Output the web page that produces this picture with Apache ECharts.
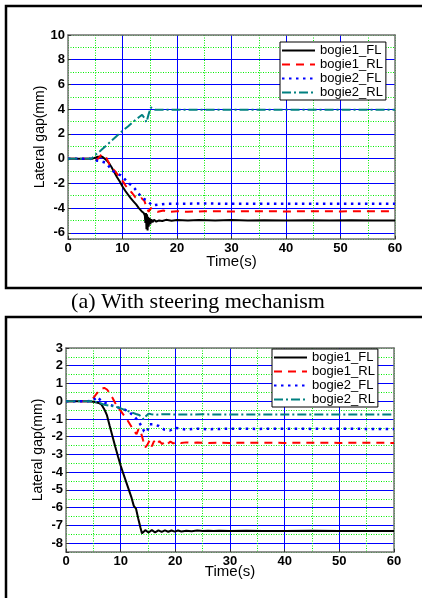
<!DOCTYPE html>
<html><head><meta charset="utf-8">
<script src="https://cdn.jsdelivr.net/npm/echarts@6/dist/echarts.min.js"></script>
<style>html,body{margin:0;padding:0;background:#fff}#c{width:422px;height:598px}</style>
</head><body><div id="c"></div>
<script>
const seriesNames = ['bogie1_FL','bogie1_RL','bogie2_FL','bogie2_RL'];
const xTickLabels = [0,10,20,30,40,50,60];
const topYTickLabels = [-6,-4,-2,0,2,4,6,8,10];
const botYTickLabels = [-8,-7,-6,-5,-4,-3,-2,-1,0,1,2,3];
const caption = '(a) With steering mechanism';

// ---- top chart (with steering mechanism) ----
const topB1FL_t = [0,4.5,5.5,6.3,7,7.5,8,8.5,9,9.5,10,10.5,11,11.5,12,12.5,13,13.5,13.9,14.1,14.2,14.3,14.4,14.5,14.6,14.7,14.8,14.95,15.1,15.3,15.5,15.8,16.2,16.7,17.3,18,19,20,22,24,27,30,33,36,40,44,48,52,56,60];
const topB1FL_v = [0,0,0.15,0.15,-0.1,-0.35,-0.7,-1.1,-1.5,-1.85,-2.25,-2.6,-2.9,-3.2,-3.45,-3.7,-4.0,-4.25,-4.4,-4.6,-5.2,-4.4,-5.7,-4.5,-5.8,-4.7,-5.5,-4.8,-5.3,-4.9,-5.15,-4.95,-5.1,-5.0,-5.05,-4.95,-5.02,-4.97,-5.0,-4.96,-5.0,-4.97,-5.0,-4.98,-5.0,-4.98,-5.0,-4.99,-5.0,-5.0];
const topB1RL_t = [0,4,5,5.5,6.2,7,7.6,8.2,8.8,9.4,10,10.6,11.2,11.8,12.4,13,13.5,14,14.4,14.8,15.2,15.8,16.5,17.5,18.5,20,22,25,30,35,40,45,50,55,60];
const topB1RL_v = [0,0,-0.15,0,0.35,0.1,-0.45,-0.8,-1.1,-1.45,-1.8,-2.2,-2.5,-2.8,-3.15,-3.3,-3.2,-3.4,-3.9,-4.3,-4.0,-4.15,-4.3,-4.2,-4.3,-4.25,-4.3,-4.25,-4.27,-4.25,-4.27,-4.25,-4.27,-4.25,-4.25];
const topB2FL_t = [0,4,5,6,7,8.2,9,9.7,10.3,10.9,11.6,12.2,12.7,13.3,13.9,14.5,15,15.5,16,17,18,20,25,30,40,50,60];
const topB2FL_v = [0,0,-0.15,-0.2,-0.35,-1.0,-1.2,-1.35,-1.6,-1.9,-2.15,-2.4,-2.7,-3.0,-3.25,-3.4,-3.6,-3.8,-3.75,-3.7,-3.65,-3.65,-3.63,-3.65,-3.65,-3.65,-3.65];
const topB2RL_t = [0,4.3,5,6,7,8,9,10,11,12,13,13.6,14.0,14.4,14.8,15.2,15.5,16,17,20,25,30,40,50,60];
const topB2RL_v = [0,0,0.3,0.65,1.05,1.45,1.85,2.25,2.6,3.0,3.35,3.55,3.3,2.95,3.6,4.15,4.05,3.95,3.95,3.95,3.95,3.95,3.95,3.95,3.95];

// ---- bottom chart ----
const botB1FL_t = [0,4,5,6,6.5,7,7.5,8,8.5,9,9.5,10,10.5,11,11.5,12,12.4,12.8,13.2,13.6,13.9,14.5,15.1,15.7,16.3,16.9,17.5,18.1,18.7,19.3,19.9,20.5,21.1,22,23,24,25,26,27,28,30,33,36,40,45,50,55,60];
const botB1FL_v = [0,0,-0.03,-0.1,-0.2,-0.45,-0.8,-1.4,-1.97,-2.55,-3.1,-3.63,-4.1,-4.55,-5.0,-5.45,-5.9,-6.05,-6.6,-7.1,-7.45,-7.27,-7.4,-7.27,-7.39,-7.28,-7.37,-7.28,-7.36,-7.29,-7.35,-7.29,-7.34,-7.3,-7.33,-7.29,-7.32,-7.3,-7.32,-7.3,-7.32,-7.3,-7.31,-7.31,-7.3,-7.31,-7.31,-7.31];
const botB1RL_t = [0,4,4.5,5,5.5,6,6.5,7,7.5,8,8.5,9,9.5,10,10.5,11,11.5,12,12.5,12.9,13.3,13.7,14.1,14.5,14.9,15.3,15.7,16.1,16.6,17.1,17.6,18.1,18.6,19.1,19.6,20.2,21,22,23,24,26,28,30,35,40,45,50,55,60];
const botB1RL_v = [0,0,0.02,0.18,0.38,0.58,0.7,0.75,0.66,0.45,0.2,-0.1,-0.35,-0.55,-0.75,-0.95,-1.2,-1.45,-1.7,-1.85,-1.55,-1.75,-2.2,-2.6,-2.45,-2.2,-2.55,-2.25,-2.45,-2.25,-2.42,-2.26,-2.4,-2.28,-2.38,-2.3,-2.36,-2.32,-2.35,-2.33,-2.35,-2.34,-2.35,-2.34,-2.35,-2.34,-2.35,-2.34,-2.35];
const botB2FL_t = [0,4,5,5.7,6.5,7.5,8.5,9.5,10.5,11.4,12.4,13.2,13.8,14.3,14.8,15.3,16,17,18,19,20,21,22,24,26,30,35,40,45,50,55,60];
const botB2FL_v = [0,0,0.05,0.25,0.0,-0.15,-0.25,-0.35,-0.45,-0.56,-0.84,-1.1,-1.4,-1.7,-1.75,-1.3,-1.3,-1.4,-1.6,-1.65,-1.5,-1.55,-1.6,-1.55,-1.58,-1.55,-1.56,-1.55,-1.56,-1.55,-1.56,-1.56];
const botB2RL_t = [0,5,6,7,8,9,10,11,12,12.8,13.4,13.9,14.2,14.6,15.1,15.6,16.5,18,20,25,30,40,50,60];
const botB2RL_v = [0,0,-0.08,-0.2,-0.26,-0.3,-0.4,-0.52,-0.63,-0.72,-0.78,-0.9,-1.02,-0.85,-0.7,-0.73,-0.76,-0.73,-0.75,-0.74,-0.75,-0.75,-0.75,-0.75];

const FONT = 'Liberation Sans';
const lineStyles = {
  bogie1_FL: {color:'#000000', type:'solid', width:2},
  bogie1_RL: {color:'#ff0000', type:[8,6], width:2},
  bogie2_FL: {color:'#0000ff', type:[2.5,4.5], width:2.5},
  bogie2_RL: {color:'#008080', type:[9,3,2,3], width:2}
};
const zip = (t, v) => t.map((x, i) => [x, v[i]]);
function mk(name, t, v, axisIdx) {
  const s = lineStyles[name];
  return {type:'line', name, xAxisIndex:axisIdx, yAxisIndex:axisIdx, data:zip(t, v),
    showSymbol:false, symbol:'none', lineStyle:{color:s.color, type:s.type, width:s.width},
    itemStyle:{color:s.color}, z:5};
}

const blue = '#0000ff', green = '#00ee00', axisGray = '#707070';
function xAxes(gi, nameGap) {
  return [
    {gridIndex:gi, type:'value', min:0, max:60, interval:5, position:'top',
     axisLine:{show:true, onZero:false, lineStyle:{color:axisGray, width:1.5}}, axisTick:{show:false}, axisLabel:{show:false},
     splitLine:{show:true, lineStyle:{color:green, type:[1,1.5], width:1}}},
    {gridIndex:gi, type:'value', min:0, max:60, interval:10, position:'bottom',
     name:'Time(s)', nameLocation:'middle', nameGap:nameGap, nameMoveOverlap:false,
     nameTextStyle:{fontFamily:FONT, fontSize:15, color:'#000'},
     axisLine:{show:true, onZero:false, lineStyle:{color:axisGray, width:1.5}},
     axisTick:{show:true, inside:true, length:3, lineStyle:{color:'#333'}},
     axisLabel:{margin:3, fontFamily:FONT, fontSize:13, fontWeight:'bold', color:'#000',
       formatter: v => xTickLabels.includes(v) ? String(v) : ''},
     splitLine:{show:true, showMinLine:false, showMaxLine:false, lineStyle:{color:blue, width:1}}}
  ];
}
function yAxes(gi, min, max, majSplit, minSplit, labels) {
  return [
    {gridIndex:gi, type:'value', min, max, splitNumber:minSplit, position:'right',
     axisLine:{show:true, onZero:false, lineStyle:{color:axisGray, width:1.5}}, axisTick:{show:false}, axisLabel:{show:false},
     splitLine:{show:true, lineStyle:{color:green, type:[1,1.5], width:1}}},
    {gridIndex:gi, type:'value', min, max, splitNumber:majSplit, position:'left',
     name:'Lateral gap(mm)', nameLocation:'middle', nameRotate:90, nameGap:21, nameMoveOverlap:false,
     nameTextStyle:{fontFamily:FONT, fontSize:14, color:'#000'},
     axisLine:{show:true, onZero:false, lineStyle:{color:axisGray, width:1.5}},
     axisTick:{show:true, inside:true, length:3, lineStyle:{color:'#333'}},
     axisLabel:{margin:3, fontFamily:FONT, fontSize:13, fontWeight:'bold', color:'#000',
       formatter: v => labels.includes(v) ? String(v) : ''},
     splitLine:{show:true, showMinLine:false, showMaxLine:false, lineStyle:{color:blue, width:1}}}
  ];
}
function legend(left, top) {
  return {data:seriesNames, orient:'vertical', left, top, itemWidth:33, itemHeight:10, itemGap:1,
    padding:[2,3,1,1], borderColor:'#000', borderWidth:1, backgroundColor:'#fff',
    itemStyle:{opacity:0, borderWidth:0},
    selectedMode:false, textStyle:{fontFamily:FONT, fontSize:13, color:'#000'}, z:10};
}

const chart = echarts.init(document.getElementById('c'), null, {renderer:'canvas'});
chart.setOption({
  animation:false,
  backgroundColor:'#fff',
  grid:[
    {left:68, top:35, width:327, height:204, show:true, borderColor:axisGray, borderWidth:0, backgroundColor:'#fff'},
    {left:66, top:348, width:328, height:204, show:true, borderColor:axisGray, borderWidth:0, backgroundColor:'#fff'}
  ],
  xAxis:[...xAxes(0, 15), ...xAxes(1, 12)],
  yAxis:[...yAxes(0, -6.5, 10, 8, 16, topYTickLabels), ...yAxes(1, -8.5, 3, 11, 23, botYTickLabels)],
  legend:[legend(280, 42), legend(272, 349)],
  series:[
    mk('bogie1_FL', topB1FL_t, topB1FL_v, 1),
    mk('bogie1_RL', topB1RL_t, topB1RL_v, 1),
    mk('bogie2_FL', topB2FL_t, topB2FL_v, 1),
    mk('bogie2_RL', topB2RL_t, topB2RL_v, 1),
    mk('bogie1_FL', botB1FL_t, botB1FL_v, 3),
    mk('bogie1_RL', botB1RL_t, botB1RL_v, 3),
    mk('bogie2_FL', botB2FL_t, botB2FL_v, 3),
    mk('bogie2_RL', botB2RL_t, botB2RL_v, 3)
  ],
  graphic:[
    {type:'rect', shape:{x:6, y:6, width:430, height:282}, style:{fill:'none', stroke:'#000', lineWidth:2.5}, z:1, silent:true},
    {type:'rect', shape:{x:6, y:317, width:430, height:300}, style:{fill:'none', stroke:'#000', lineWidth:2.5}, z:1, silent:true},
    {type:'text', x:198, y:302, style:{text:caption, font:'22px "Liberation Serif"', fill:'#000', align:'center', verticalAlign:'middle'}, z:1}
  ]
});
</script></body></html>
